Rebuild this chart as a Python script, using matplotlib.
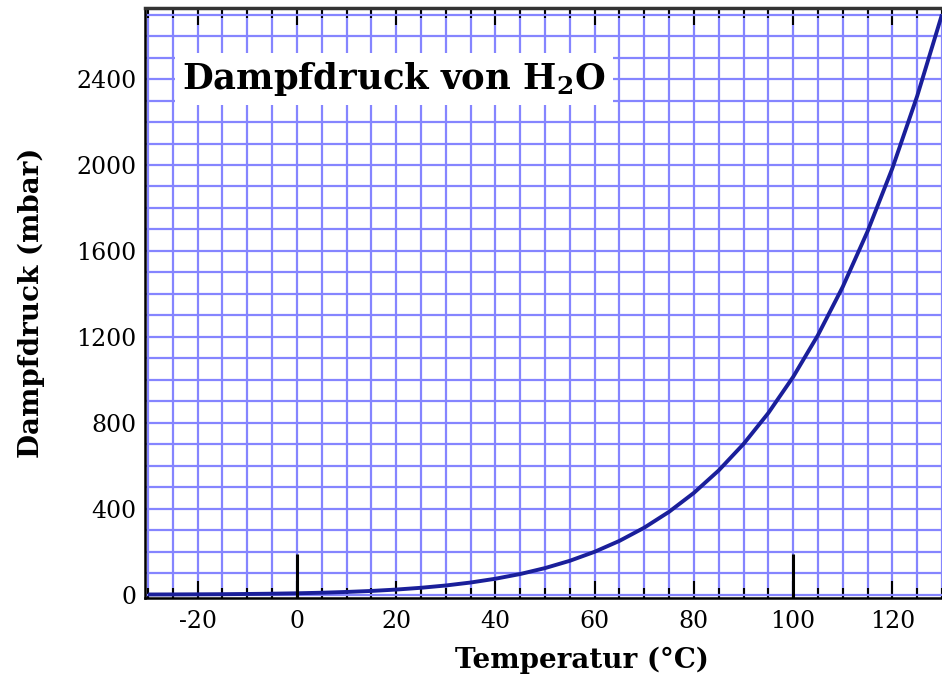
import matplotlib
matplotlib.use("Agg")
import matplotlib.pyplot as plt
from matplotlib.ticker import MultipleLocator, FixedFormatter

# Data (temperature in °C, vapour pressure in mbar)
temperature = [-30, -25, -20, -15, -10, -5, 0, 5, 10, 15, 20, 25, 30, 35, 40, 45,
               50, 55, 60, 65, 70, 75, 80, 85, 90, 95, 100, 105, 110, 115, 120, 125, 130]
pressure = [0.5, 0.8, 1.3, 1.9, 2.9, 4.2, 6.1, 8.7, 12.3, 17.0, 23.4, 31.7, 42.4, 56.2,
            73.8, 95.8, 123.4, 157.4, 199.3, 250.1, 311.6, 385.5, 473.6, 578.0, 701.1,
            845.3, 1013.3, 1208, 1433, 1691, 1985, 2321, 2701]
marker_temps = [0, 100]
marker_height = 190
x_ticks = [-20, 0, 20, 40, 60, 80, 100, 120]
x_labels = ['-20', '0', '20', '40', '60', '80', '100', '120']
y_ticks = [0, 400, 800, 1200, 1600, 2000, 2400]
y_labels = ['0', '400', '800', '1200', '1600', '2000', '2400']

plt.rcParams['font.family'] = ['DejaVu Serif']
plt.rcParams['mathtext.fontset'] = 'dejavuserif'

fig = plt.figure(figsize=(9.42, 6.84), dpi=100)
ax = fig.add_axes([0.154, 0.126, 0.846, 0.862])

ax.set_xlim(-30.6, 130)
ax.set_ylim(-15, 2730)

ax.xaxis.set_minor_locator(MultipleLocator(5))
ax.yaxis.set_minor_locator(MultipleLocator(100))
ax.set_xticks(x_ticks)
ax.set_xticklabels(x_labels)
ax.set_yticks(y_ticks)
ax.set_yticklabels(y_labels)

ax.grid(True, which='both', color='#8585ff', linewidth=1.6, zorder=0)
ax.set_axisbelow(True)

ax.plot(temperature, pressure, color='#1a1f9a', linewidth=2.8, zorder=3,
        solid_capstyle='butt')

ax.vlines(marker_temps, ax.get_ylim()[0], marker_height, color='black',
          linewidth=2.2, zorder=4)

ax.tick_params(axis='x', which='both', direction='in', top=True, bottom=True,
               labelsize=17, pad=9, color='black')
ax.tick_params(axis='x', which='major', length=12, width=1.5)
ax.tick_params(axis='x', which='minor', length=7, width=1.5)
ax.tick_params(axis='y', which='both', length=0, labelsize=17, pad=6)

for s in ['left', 'bottom']:
    ax.spines[s].set_linewidth(1.8)
    ax.spines[s].set_color('black')
ax.spines['top'].set_linewidth(2.5)
ax.spines['top'].set_color('#333333')
ax.spines['right'].set_visible(False)

ax.set_xlabel('Temperatur (°C)', fontsize=20, fontweight='bold')
ax.xaxis.set_label_coords(0.548, -0.083)
ax.set_ylabel('Dampfdruck (mbar)', fontsize=20, fontweight='bold')
ax.yaxis.set_label_coords(-0.125, 0.5)

ax.text(-23.2, 2400, 'Dampfdruck von H$_\\mathbf{2}$O', fontsize=25.5, fontweight='bold',
        ha='left', va='center', zorder=5,
        bbox=dict(boxstyle='square,pad=0.2', facecolor='white', edgecolor='none'))

fig.savefig('out.png', dpi=100)
